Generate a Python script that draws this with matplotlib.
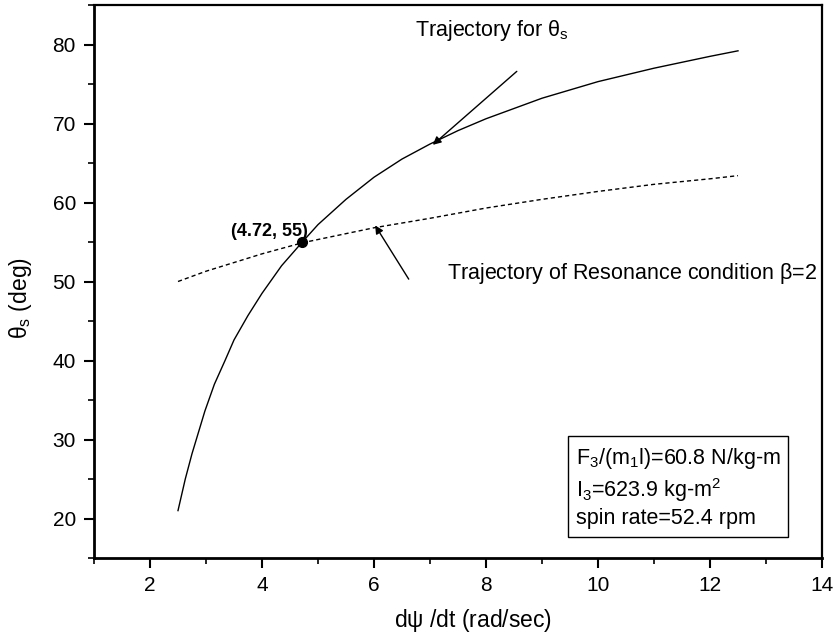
import matplotlib
matplotlib.use("Agg")
import matplotlib.pyplot as plt
from matplotlib.ticker import MultipleLocator

plt.rcParams['font.family'] = ['Liberation Sans', 'DejaVu Sans']
plt.rcParams['mathtext.fontset'] = 'custom'
plt.rcParams['mathtext.rm'] = 'Liberation Sans'
plt.rcParams['mathtext.it'] = 'Liberation Sans:italic'
plt.rcParams['mathtext.default'] = 'regular'

# Trajectory for theta_s (solid)
theta_x = [2.5, 2.63, 2.75, 2.98, 3.15, 3.34, 3.5, 3.75, 4.0, 4.35, 4.72, 5.0, 5.5, 6.0, 6.5,
           7.0, 7.5, 8.0, 9.0, 10.0, 11.0, 12.0, 12.5]
theta_y = [21.0, 25.0, 28.2, 33.6, 37.0, 40.0, 42.6, 45.7, 48.5, 52.0, 55.0, 57.2, 60.4, 63.2, 65.5,
           67.4, 69.1, 70.6, 73.2, 75.3, 77.0, 78.5, 79.2]

# Trajectory of resonance condition beta=2 (dashed)
reson_x = [2.5, 3.0, 4.0, 4.72, 6.0, 7.0, 8.0, 9.0, 10.0, 11.0, 12.0, 12.5]
reson_y = [50.0, 51.3, 53.5, 54.9, 56.8, 58.0, 59.3, 60.4, 61.4, 62.3, 63.0, 63.4]

cross_x, cross_y = 4.72, 55

x_ticks = [2, 4, 6, 8, 10, 12, 14]
y_ticks = [20, 30, 40, 50, 60, 70, 80]

fig = plt.figure(figsize=(8.37, 6.38), dpi=100)
ax = fig.add_axes([94/837, 1-558/638, (822-94)/837, (558-5)/638])

ax.plot(theta_x, theta_y, color='black', lw=1.0)
ax.plot(reson_x, reson_y, color='black', lw=1.0, dashes=(3, 2.2))
ax.plot([cross_x], [cross_y], 'o', color='black', ms=7)

ax.set_xlim(1, 14)
ax.set_ylim(15, 85)
ax.set_xticks(x_ticks)
ax.set_yticks(y_ticks)
ax.xaxis.set_minor_locator(MultipleLocator(1))
ax.yaxis.set_minor_locator(MultipleLocator(5))
ax.tick_params(which='major', direction='out', length=7, width=1.5, labelsize=15, pad=6)
ax.tick_params(which='minor', direction='out', length=4, width=1.2)
ax.tick_params(top=False, right=False)
for side in ['left', 'bottom']:
    ax.spines[side].set_linewidth(2.0)
for side in ['top', 'right']:
    ax.spines[side].set_linewidth(1.6)

ax.set_xlabel(r'd$\psi$ /dt (rad/sec)', fontsize=16.5)
ax.xaxis.set_label_coords(0.52, -0.088)
ax.set_ylabel(r'$\theta_s$ (deg)', fontsize=16.5)
ax.yaxis.set_label_coords(-0.082, 0.47)

ax.text(4.82, cross_y + 1.3, '(%.2f, %d)' % (cross_x, cross_y),
        fontsize=13, fontweight='bold', ha='right', va='center')

# label and arrow for the theta_s trajectory
ax.text(8.1, 81.8, r'Trajectory for $\theta_s$', fontsize=15.5, ha='center', va='center')
ax.annotate('', xy=(7.05, 67.3), xytext=(8.55, 76.6),
            arrowprops=dict(arrowstyle='-|>', color='black', lw=1.0,
                            shrinkA=0, shrinkB=0, mutation_scale=12))

# label and arrow for the resonance trajectory
ax.text(7.3, 51.0, r'Trajectory of Resonance condition $\beta$=2',
        fontsize=15.5, ha='left', va='center')
ax.annotate('', xy=(6.02, 57.1), xytext=(6.62, 50.3),
            arrowprops=dict(arrowstyle='-|>', color='black', lw=1.0,
                            shrinkA=0, shrinkB=0, mutation_scale=12))

box_text = 'F$_3$/(m$_1$l)=60.8 N/kg-m\nI$_3$=623.9 kg-m$^2$\nspin rate=52.4 rpm'
ax.text((576-94)/728, (558-529)/553, box_text, transform=ax.transAxes, fontsize=15.5,
        ha='left', va='bottom', linespacing=1.25,
        bbox=dict(boxstyle='square,pad=0.35', facecolor='white', edgecolor='black', lw=1.0))

fig.savefig('out.png', dpi=100)
